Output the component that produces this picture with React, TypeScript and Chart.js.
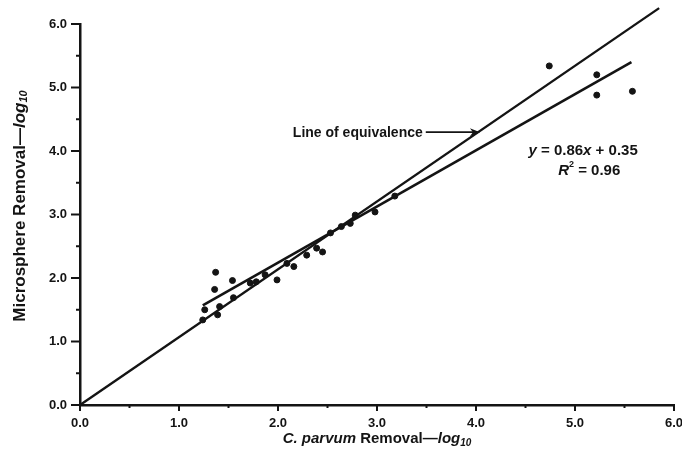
import React, { useEffect, useRef } from 'react';
import { Chart, registerables } from 'chart.js';

Chart.register(...registerables);

// ---- data ----
const cParvumRemoval = [
  1.37, 1.54, 1.36, 1.26, 1.41, 1.24, 1.39, 1.55, 1.72, 1.78, 1.87, 1.99, 2.09, 2.16,
  2.29, 2.39, 2.45, 2.53, 2.64, 2.73, 2.78, 2.98, 3.18, 4.74, 5.22, 5.22, 5.58,
];
const microsphereRemoval = [
  2.09, 1.96, 1.82, 1.5, 1.55, 1.34, 1.42, 1.69, 1.92, 1.94, 2.05, 1.97, 2.23, 2.18,
  2.36, 2.47, 2.41, 2.71, 2.81, 2.86, 2.99, 3.04, 3.29, 5.34, 5.2, 4.88, 4.94,
];
const equivalenceX = [0, 5.85];
const equivalenceY = [0, 6.25];
const fitX = [1.24, 5.57];
const fitY = [1.57, 5.4];
const axisMin = 0;
const axisMax = 6;
const tickStep = 1;
const minorStep = 0.5;
const equivalenceLabel = 'Line of equivalence';
const equationParts = ['y', ' = 0.86', 'x', ' + 0.35'];
const r2Parts = ['R', '2', ' = 0.96'];
const xTitleParts = ['C. parvum', ' Removal\u2014', 'log', '10'];
const yTitleParts = ['Microsphere Removal\u2014', 'log', '10'];

const INK = '#141414';
const FAM = '"Liberation Sans", Arial, sans-serif';

type Part = { text: string; font: string; dy?: number };

function drawRich(ctx: CanvasRenderingContext2D, parts: Part[], x: number, y: number, align: 'left' | 'center', rotate = 0) {
  ctx.save();
  ctx.translate(x, y);
  if (rotate) ctx.rotate(rotate);
  ctx.fillStyle = INK;
  ctx.textBaseline = 'middle';
  ctx.textAlign = 'left';
  let total = 0;
  const widths = parts.map((p) => {
    ctx.font = p.font;
    const w = ctx.measureText(p.text).width;
    total += w;
    return w;
  });
  let cx = align === 'center' ? -total / 2 : 0;
  parts.forEach((p, i) => {
    ctx.font = p.font;
    ctx.fillText(p.text, cx, p.dy || 0);
    cx += widths[i];
  });
  ctx.restore();
  return total;
}

const decorPlugin = {
  id: 'decor',
  afterDraw(chart: any) {
    const ctx: CanvasRenderingContext2D = chart.ctx;
    const xs = chart.scales.x;
    const ys = chart.scales.y;
    const area = chart.chartArea;
    ctx.save();
    ctx.strokeStyle = INK;
    ctx.lineWidth = 2;
    // tick marks
    for (let v = axisMin; v <= axisMax + 1e-9; v += minorStep) {
      const major = Math.abs(v - Math.round(v)) < 1e-9;
      const px = xs.getPixelForValue(v);
      ctx.beginPath();
      ctx.moveTo(px, area.bottom);
      ctx.lineTo(px, area.bottom + (major ? 6 : 3));
      ctx.stroke();
      const py = ys.getPixelForValue(v);
      ctx.beginPath();
      ctx.moveTo(area.left, py);
      ctx.lineTo(area.left - (major ? 9 : 4), py);
      ctx.stroke();
    }
    ctx.restore();

    // axis titles
    const b15 = `bold 15px ${FAM}`;
    const bi15 = `italic bold 15px ${FAM}`;
    const bi10 = `italic bold 10px ${FAM}`;
    drawRich(
      ctx,
      [
        { text: xTitleParts[0], font: bi15 },
        { text: xTitleParts[1], font: b15 },
        { text: xTitleParts[2], font: bi15 },
        { text: xTitleParts[3], font: bi10, dy: 4 },
      ],
      (area.left + area.right) / 2,
      439,
      'center'
    );
    const b17 = `bold 17px ${FAM}`;
    const bi17 = `italic bold 17px ${FAM}`;
    const bi11 = `italic bold 11px ${FAM}`;
    drawRich(
      ctx,
      [
        { text: yTitleParts[0], font: b17 },
        { text: yTitleParts[1], font: bi17 },
        { text: yTitleParts[2], font: bi11, dy: 4 },
      ],
      20,
      206,
      'center',
      -Math.PI / 2
    );

    // line of equivalence label with arrow
    const b14 = `bold 14px ${FAM}`;
    const lx = xs.getPixelForValue(2.15);
    const ly = ys.getPixelForValue(4.28);
    const w = drawRich(ctx, [{ text: equivalenceLabel, font: b14 }], lx, ly, 'left');
    const ax0 = lx + w + 3;
    const ax1 = xs.getPixelForValue(4.04);
    const ay = ly - 1;
    ctx.save();
    ctx.strokeStyle = INK;
    ctx.fillStyle = INK;
    ctx.lineWidth = 1.8;
    ctx.beginPath();
    ctx.moveTo(ax0, ay);
    ctx.lineTo(ax1 - 6, ay);
    ctx.stroke();
    ctx.beginPath();
    ctx.moveTo(ax1, ay);
    ctx.lineTo(ax1 - 10, ay - 4);
    ctx.lineTo(ax1 - 7, ay);
    ctx.lineTo(ax1 - 10, ay + 4);
    ctx.closePath();
    ctx.fill();
    ctx.restore();

    // regression equation
    const b15e = `bold 15px ${FAM}`;
    const bi15e = `italic bold 15px ${FAM}`;
    drawRich(
      ctx,
      [
        { text: equationParts[0], font: bi15e },
        { text: equationParts[1], font: b15e },
        { text: equationParts[2], font: bi15e },
        { text: equationParts[3], font: b15e },
      ],
      xs.getPixelForValue(4.53),
      ys.getPixelForValue(4.0),
      'left'
    );
    drawRich(
      ctx,
      [
        { text: r2Parts[0], font: bi15e },
        { text: r2Parts[1], font: `bold 9px ${FAM}`, dy: -6 },
        { text: r2Parts[2], font: b15e },
      ],
      xs.getPixelForValue(4.83),
      ys.getPixelForValue(3.69),
      'left'
    );
  },
};

export default function App() {
  const ref = useRef<HTMLCanvasElement | null>(null);
  useEffect(() => {
    if (!ref.current) return;
    const tickFont = { family: FAM, size: 13, weight: 'bold' as const };
    const chart = new Chart(ref.current, {
      type: 'scatter',
      data: {
        datasets: [
          {
            label: 'Data',
            data: cParvumRemoval.map((x, i) => ({ x, y: microsphereRemoval[i] })),
            backgroundColor: INK,
            borderColor: INK,
            pointRadius: 3,
            showLine: false,
          },
          {
            label: 'Line of equivalence',
            data: equivalenceX.map((x, i) => ({ x, y: equivalenceY[i] })),
            showLine: true,
            borderColor: INK,
            borderWidth: 2.4,
            pointRadius: 0,
            clip: false as any,
          },
          {
            label: 'Fit',
            data: fitX.map((x, i) => ({ x, y: fitY[i] })),
            showLine: true,
            borderColor: INK,
            borderWidth: 2.6,
            pointRadius: 0,
            clip: false as any,
          },
        ],
      },
      options: {
        responsive: false,
        animation: false,
        layout: { padding: { top: 24, right: 8, left: 0, bottom: 0 } },
        plugins: { legend: { display: false }, tooltip: { enabled: false } },
        scales: {
          x: {
            type: 'linear',
            min: axisMin,
            max: axisMax,
            grid: { display: false, drawTicks: false },
            border: { display: true, color: INK, width: 2.5 },
            ticks: {
              stepSize: tickStep,
              color: INK,
              font: tickFont,
              padding: 11,
              maxRotation: 0,
              autoSkip: false,
              callback: (v: any) => Number(v).toFixed(1),
            },
            afterFit: (s: any) => {
              s.height = 50;
              s.paddingLeft = 0;
              s.paddingRight = 0;
            },
          },
          y: {
            type: 'linear',
            min: axisMin,
            max: axisMax,
            grid: { display: false, drawTicks: false },
            border: { display: true, color: INK, width: 2.5 },
            ticks: {
              stepSize: tickStep,
              color: INK,
              font: tickFont,
              padding: 13,
              autoSkip: false,
              callback: (v: any) => Number(v).toFixed(1),
            },
            afterFit: (s: any) => {
              s.width = 80;
              s.paddingTop = 0;
              s.paddingBottom = 0;
            },
          },
        },
      },
      plugins: [decorPlugin],
    });
    return () => chart.destroy();
  }, []);
  return (
    <div style={{ position: 'fixed', left: 0, top: 0, width: 682, height: 455, background: '#fff' }}>
      <canvas ref={ref} width={682} height={455} style={{ display: 'block' }} />
    </div>
  );
}
